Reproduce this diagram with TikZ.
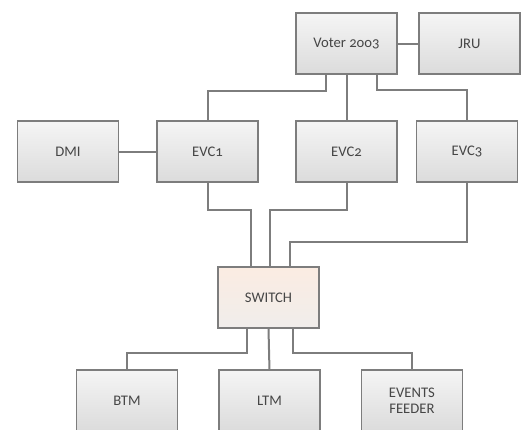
\documentclass[tikz,border=0pt]{standalone}
\usepackage{fontspec}
\setmainfont{Carlito}[Numbers=OldStyle]
\usepackage{tikz}
\usetikzlibrary{chains,positioning,calc}
\definecolor{boxline}{RGB}{125,125,125}
\definecolor{boxtext}{RGB}{70,70,70}
\definecolor{hubtop}{RGB}{251,236,226}
\definecolor{hubbot}{RGB}{240,237,235}
\tikzstyle{unit}=[draw=boxline,line width=1.1pt,minimum width=75.75pt,minimum height=45.75pt,
  top color=gray!8,bottom color=gray!28,text=boxtext,font=\fontsize{11}{12}\selectfont,align=center]
\tikzstyle{hub}=[unit,top color=hubtop,bottom color=hubbot]
\tikzstyle{link}=[draw=boxline,line width=1.5pt]

\begin{document}
\begin{tikzpicture}[x=0.75pt,y=-0.75pt]
\useasboundingbox (0,0) rectangle (521,429);
\node [unit] (voter) at (346.5,43.5) {Voter 2oo3};
\node [unit] (jru) at (469.5,43.5) {JRU};
\node [unit] (dmi) at (68,151.5) {DMI};
\node [unit] (evc1) at (207.5,151.5) {EVC1};
\node [unit] (evc2) at (346.5,151.5) {EVC2};
\node [unit] (evc3) at (467,151.5) {EVC3};
\node [hub] (switch) at (268.5,297.5) {SWITCH};
\begin{scope}[start chain=1 going right, node distance=30pt]
    \node [on chain=1,unit] (btm) at (127,400.5) {BTM};
    \node [on chain=1,unit] (ltm) {LTM};
    \node [on chain=1,unit] (feeder) {EVENTS\\FEEDER};
\end{scope}
% top links
\draw [link] (voter.east) -- (jru.west);
\draw [link] ($(voter.south)+(-21,0)$) -- ++(0,16) -| (evc1.north);
\draw [link] (voter.south) -- (evc2.north);
\draw [link] ($(voter.south)+(30.5,0)$) -- ++(0,15) -| (evc3.north);
\draw [link] (dmi.east) -- (evc1.west);
% into switch
\draw [link] (evc1.south) -- ++(0,27) -| ($(switch.north)+(-18,0)$);
\draw [link] (evc2.south) -- ++(0,27) -| ($(switch.north)+(1,0)$);
\draw [link] (evc3.south) -- ++(0,59) -| ($(switch.north)+(21.5,0)$);
% out of switch
\draw [link] ($(switch.south)+(-21.5,0)$) -- ++(0,24) -| (btm.north);
\draw [link] (switch.south) -- (ltm.north);
\draw [link] ($(switch.south)+(24.5,0)$) -- ++(0,24) -| (feeder.north);
\end{tikzpicture}
\end{document}
